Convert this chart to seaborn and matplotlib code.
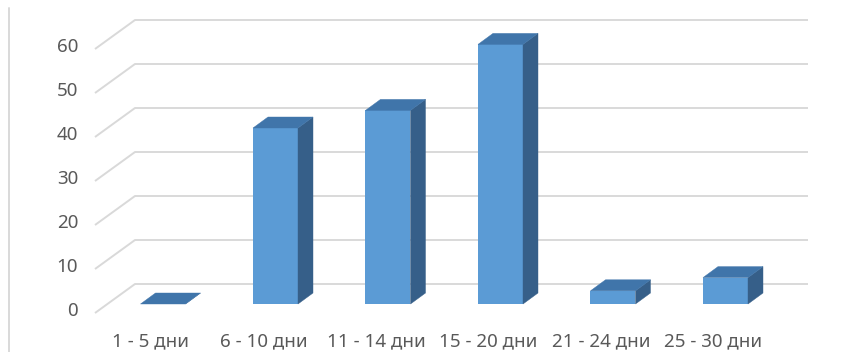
import matplotlib
matplotlib.use("Agg")
import matplotlib.pyplot as plt
from matplotlib.patches import Polygon
import pandas as pd
import seaborn as sns

# ---- data ----
categories = ["1 - 5 дни", "6 - 10 дни", "11 - 14 дни", "15 - 20 дни", "21 - 24 дни", "25 - 30 дни"]
values = [0, 40, 44, 59, 3, 6]
y_ticks = [0, 10, 20, 30, 40, 50, 60]

# ---- style ----
FRONT = "#5b9bd5"
TOP = "#4075aa"
SIDE = "#365f89"
GRID = "#d9d9d9"
TEXT = "#595959"

sns.set_theme(style="white")
plt.rcParams["font.family"] = ["Noto Sans", "DejaVu Sans"]

W, H, DPI = 853, 352, 100
fig = plt.figure(figsize=(W / DPI, H / DPI), dpi=DPI)
ax = fig.add_axes([0, 0, 1, 1])

df = pd.DataFrame({"period": categories, "count": values})
sns.barplot(data=df, x="period", y="count", width=0.4, color=FRONT,
            saturation=1, ax=ax, zorder=3, linewidth=0)

# pixel geometry: first category centre, category step, floor height, px per unit
x0_px, step_px = 163, 112.5
base_px, unit_px = 48, 4.4
ax.set_xlim(-x0_px / step_px, (W - x0_px) / step_px)
ax.set_ylim(-base_px / unit_px, (H - base_px) / unit_px)
ax.set_axis_off()

def px_x(p):
    return (p - x0_px) / step_px

def px_dy(p):
    return p / unit_px

# depth of the columns
dx, dy = 15 / step_px, px_dy(11)

# back wall gridlines with their slanted floor/side segments
for v in y_ticks:
    ax.plot([px_x(95), px_x(135), px_x(808)],
            [v - px_dy(9), v + px_dy(20), v + px_dy(20)],
            color=GRID, lw=1.4, zorder=1, solid_capstyle="butt")
    ax.text(px_x(78), v - px_dy(7), f"{v}", ha="right", va="center",
            fontsize=13.5, color=TEXT)

# top and side faces of every column
for bar in ax.patches[:]:
    x = bar.get_x()
    w = bar.get_width()
    h = bar.get_height()
    x1 = x + w
    side = Polygon([(x1, 0), (x1, h), (x1 + dx, h + dy), (x1 + dx, dy)],
                   closed=True, facecolor=SIDE, edgecolor=SIDE, lw=0.3, zorder=3)
    top = Polygon([(x, h), (x1, h), (x1 + dx, h + dy), (x + dx, h + dy)],
                  closed=True, facecolor=TOP, edgecolor=TOP, lw=0.3, zorder=3)
    ax.add_patch(side)
    ax.add_patch(top)

# category labels
for i, label in enumerate(categories):
    ax.text(i - 12 / step_px, px_dy(6 - base_px), label, ha="center",
            va="baseline", fontsize=13.5, color=TEXT)

# left frame line
ax.plot([px_x(9), px_x(9)], [px_dy(H - 8 - base_px), px_dy(-base_px)],
        color=GRID, lw=1.4, zorder=1)

fig.savefig("out.png", dpi=DPI, facecolor="white")
